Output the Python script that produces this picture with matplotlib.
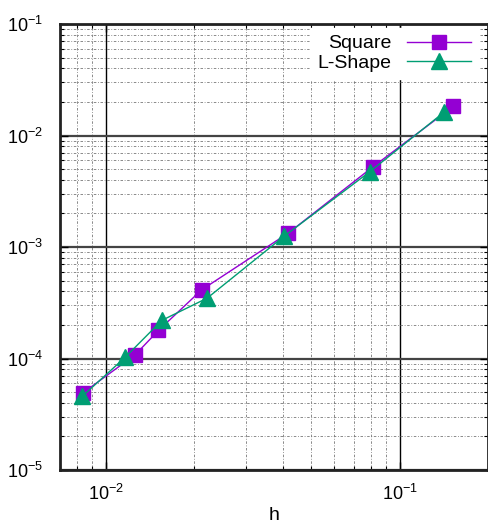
import numpy as np
import matplotlib.pyplot as plt
from matplotlib.ticker import LogLocator, NullFormatter

plt.rcParams['font.family'] = ['Liberation Sans', 'DejaVu Sans']
plt.rcParams['mathtext.fontset'] = 'custom'
plt.rcParams['mathtext.rm'] = 'Liberation Sans'

# data
h_square = [0.00838, 0.01263, 0.01514, 0.02123, 0.0419, 0.0812, 0.1526]
e_square = [4.92e-5, 1.084e-4, 1.787e-4, 4.13e-4, 1.337e-3, 5.24e-3, 1.83e-2]
h_lshape = [0.00834, 0.01168, 0.01555, 0.02217, 0.0406, 0.0791, 0.142]
e_lshape = [4.59e-5, 1.03e-4, 2.20e-4, 3.48e-4, 1.256e-3, 4.72e-3, 1.626e-2]

fig = plt.figure(figsize=(4.89, 5.29), dpi=100)
ax = fig.add_axes([0.1227, 0.1115, 0.8753, 0.8431])

ax.plot(h_square, e_square, color='#9400D3', lw=1, marker='s', ms=10.5, label='Square', zorder=3)
ax.plot(h_lshape, e_lshape, color='#009E73', lw=1, marker='^', ms=11, label='L-Shape', zorder=3)

ax.set_xscale('log')
ax.set_yscale('log')
ax.set_xlim(0.007, 0.2)
ax.set_ylim(1e-5, 1e-1)

ax.xaxis.set_major_locator(LogLocator(base=10, numticks=10))
ax.xaxis.set_minor_locator(LogLocator(base=10, subs=np.arange(2, 10), numticks=20))
ax.yaxis.set_major_locator(LogLocator(base=10, numticks=10))
ax.yaxis.set_minor_locator(LogLocator(base=10, subs=np.arange(2, 10), numticks=20))
ax.xaxis.set_minor_formatter(NullFormatter())
ax.yaxis.set_minor_formatter(NullFormatter())

ax.grid(which='minor', axis='both', ls=(0, (3, 2, 1, 2)), color='#777777', lw=0.6)
ax.grid(which='major', axis='x', ls='-', color='black', lw=1.0)
ax.grid(which='major', axis='y', ls='-', color='#444444', lw=1.6)
ax.set_axisbelow(True)

ax.tick_params(which='both', direction='in', top=True, right=True, labelsize=13, color='black')
ax.tick_params(which='major', length=6, width=1)
ax.tick_params(which='minor', length=3, width=0.8)
ax.tick_params(axis='x', pad=10)
ax.tick_params(axis='y', pad=12)
for s in ax.spines.values():
    s.set_linewidth(2)
    s.set_color('#222222')

ax.set_xlabel('h', fontsize=14, labelpad=2)

leg = ax.legend(loc='upper right', bbox_to_anchor=(0.985, 1.0), markerfirst=False, fontsize=14,
                frameon=True, framealpha=1, facecolor='white', edgecolor='white',
                fancybox=False, handlelength=3.3, labelspacing=0.1, borderpad=0.35,
                handletextpad=0.8, borderaxespad=0.2)
leg.set_zorder(5)

plt.savefig('out.png', dpi=100)
